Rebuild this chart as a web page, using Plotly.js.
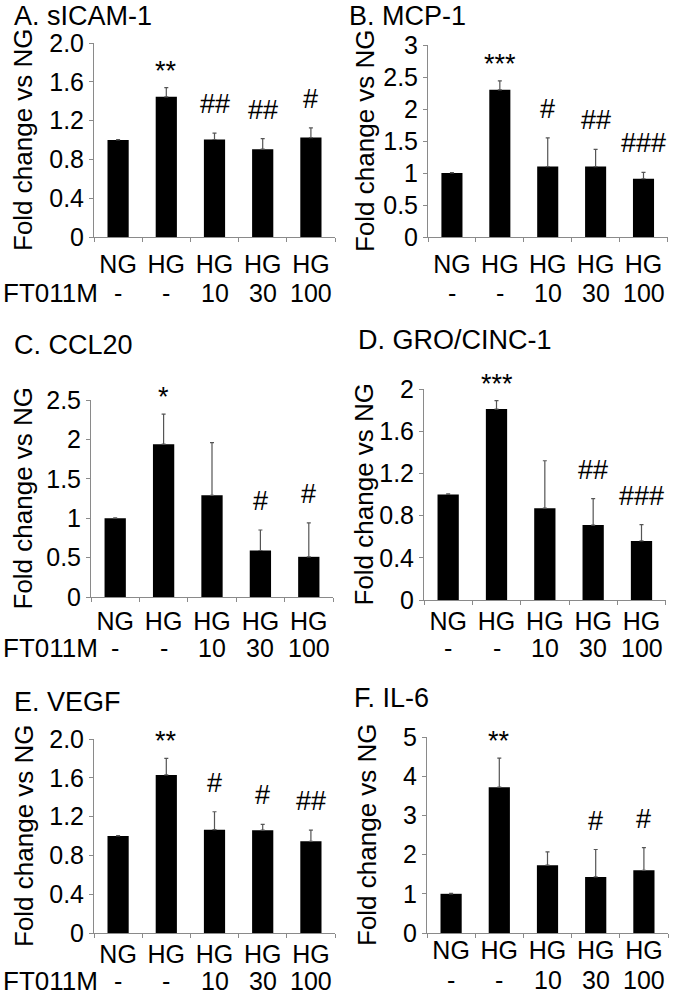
<!DOCTYPE html>
<html>
<head>
<meta charset="utf-8">
<script src="https://cdn.plot.ly/plotly-3.0.1.min.js"></script>
<style>
  body { margin: 0; background: #fff; }
  #plot { width: 675px; height: 997px; }
</style>
</head>
<body>
<div id="plot"></div>
<script>
// x axis groups (two rows of labels)
const groups = ["NG", "HG", "HG", "HG", "HG"];
const doses = ["-", "-", "10", "30", "100"];

// fold change vs NG
const icam = [1.0, 1.445, 1.005, 0.905, 1.025];
const icamErr = [0.005, 0.095, 0.065, 0.11, 0.10];
const icamSig = ["", "**", "##", "##", "#"];

const mcp = [1.0, 2.30, 1.10, 1.10, 0.91];
const mcpErr = [0.005, 0.14, 0.45, 0.27, 0.10];
const mcpSig = ["", "***", "#", "##", "###"];

const ccl = [1.0, 1.94, 1.29, 0.59, 0.51];
const cclErr = [0.005, 0.38, 0.67, 0.26, 0.43];
const cclSig = ["", "*", "", "#", "#"];

const gro = [1.0, 1.81, 0.87, 0.71, 0.56];
const groErr = [0.005, 0.08, 0.45, 0.25, 0.155];
const groSig = ["", "***", "", "##", "###"];

const vegf = [1.0, 1.63, 1.065, 1.06, 0.945];
const vegfErr = [0.005, 0.17, 0.185, 0.06, 0.115];
const vegfSig = ["", "**", "#", "#", "##"];

const il6 = [1.0, 3.72, 1.73, 1.43, 1.60];
const il6Err = [0.01, 0.74, 0.34, 0.70, 0.58];
const il6Sig = ["", "**", "", "#", "#"];

// y tick labels
const ticks04 = [0, 0.4, 0.8, 1.2, 1.6, 2.0];
const ticks04Text = ["0", "0.4", "0.8", "1.2", "1.6", "2.0"];
const ticks04TextD = ["0", "0.4", "0.8", "1.2", "1.6", "2"];
const ticks05a = [0, 0.5, 1, 1.5, 2, 2.5, 3];
const ticks05b = [0, 0.5, 1, 1.5, 2, 2.5];
const ticks1 = [0, 1, 2, 3, 4, 5];

const W = 675, H = 997;
const FONT = "'Liberation Sans', Arial, sans-serif";
const GREY = "#8a8a8a";
function px(x) { return x / W; }
function py(y) { return 1 - y / H; }

// panel boxes in pixels: left, right, top, bottom of the plot area
const panels = [
  { title: "A. sICAM-1", vals: icam, err: icamErr, sig: icamSig, max: 2, tv: ticks04, tt: ticks04Text,
    box: [94, 335, 43, 237], titleXY: [12, 16], yTitleX: 23, doseY: 293, ft: true, standoff: 5 },
  { title: "B. MCP-1", vals: mcp, err: mcpErr, sig: mcpSig, max: 3, tv: ticks05a, tt: ticks05a.map(String),
    box: [428, 668, 45, 237], titleXY: [347, 16], yTitleX: 365, doseY: 293, ft: false, standoff: 5 },
  { title: "C. CCL20", vals: ccl, err: cclErr, sig: cclSig, max: 2.5, tv: ticks05b, tt: ticks05b.map(String),
    box: [91, 333, 400, 597], titleXY: [12, 345], yTitleX: 22, doseY: 648, ft: true, standoff: 2 },
  { title: "D. GRO/CINC-1", vals: gro, err: groErr, sig: groSig, max: 2, tv: ticks04, tt: ticks04TextD,
    box: [424, 666, 389, 600], titleXY: [356, 340], yTitleX: 363, doseY: 648, ft: false, standoff: -1 },
  { title: "E. VEGF", vals: vegf, err: vegfErr, sig: vegfSig, max: 2, tv: ticks04, tt: ticks04Text,
    box: [94, 335, 739, 933], titleXY: [12, 702], yTitleX: 24, doseY: 981, ft: true, standoff: -1 },
  { title: "F. IL-6", vals: il6, err: il6Err, sig: il6Sig, max: 5, tv: ticks1, tt: ticks1.map(String),
    box: [427, 668, 737, 933], titleXY: [352, 698], yTitleX: 367, doseY: 980, ft: false, standoff: -5 }
];

// unique category keys, shown with the group name only
const cats = groups.map((g, i) => g + " " + doses[i]);

const data = [];
const layout = {
  width: W, height: H,
  margin: { l: 0, r: 0, t: 0, b: 0 },
  paper_bgcolor: "#fff", plot_bgcolor: "#fff",
  showlegend: false,
  bargap: 0.56,
  font: { family: FONT, color: "#000", size: 25 },
  annotations: []
};

panels.forEach((p, k) => {
  const n = k === 0 ? "" : String(k + 1);
  const b = p.box;
  data.push({
    type: "bar",
    x: cats, y: p.vals,
    xaxis: "x" + n, yaxis: "y" + n,
    marker: { color: "#000" },
    error_y: {
      type: "data", symmetric: false, array: p.err,
      arrayminus: p.err.map(() => 0),
      color: "#555", thickness: 1.2, width: 2
    },
    hoverinfo: "none"
  });

  layout["xaxis" + n] = {
    domain: [px(b[0]), px(b[1])],
    anchor: "y" + n,
    type: "category",
    tickmode: "array", tickvals: cats, ticktext: groups,
    tickson: "boundaries",
    ticks: "outside", ticklen: 4, tickcolor: GREY,
    ticklabelstandoff: p.standoff,
    showline: true, linecolor: GREY, linewidth: 1,
    showgrid: false, zeroline: false,
    tickfont: { size: 25 },
    fixedrange: true
  };
  layout["yaxis" + n] = {
    domain: [py(b[3]), py(b[2])],
    anchor: "x" + n,
    range: [0, p.max],
    tickmode: "array", tickvals: p.tv, ticktext: p.tt,
    ticks: "outside", ticklen: 4, tickcolor: GREY,
    showline: true, linecolor: GREY, linewidth: 1,
    showgrid: false, zeroline: false,
    tickfont: { size: 25 },
    fixedrange: true
  };

  // panel title
  layout.annotations.push({
    xref: "paper", yref: "paper",
    x: px(p.titleXY[0]), y: py(p.titleXY[1]),
    xanchor: "left", yanchor: "middle",
    text: p.title, showarrow: false, font: { size: 27 }
  });
  // y axis title
  layout.annotations.push({
    xref: "paper", yref: "paper",
    x: px(p.yTitleX), y: py((b[2] + b[3]) / 2),
    xanchor: "center", yanchor: "middle", textangle: -90,
    text: "Fold change vs NG", showarrow: false, font: { size: 26 }
  });
  // dose row under the group names
  doses.forEach((d, i) => {
    layout.annotations.push({
      xref: "x" + n, yref: "paper",
      x: cats[i], y: py(p.doseY),
      xanchor: "center", yanchor: "middle",
      text: d, showarrow: false, font: { size: 25 }
    });
  });
  if (p.ft) {
    layout.annotations.push({
      xref: "paper", yref: "paper",
      x: px(1), y: py(p.doseY),
      xanchor: "left", yanchor: "middle",
      text: "FT011M", showarrow: false, font: { size: 26 }
    });
  }
  // significance marks above the error bars
  p.sig.forEach((s, i) => {
    if (!s) return;
    layout.annotations.push({
      xref: "x" + n, yref: "y" + n,
      x: cats[i], y: p.vals[i] + p.err[i],
      xanchor: "center", yanchor: "bottom",
      yshift: s[0] === "*" ? 0 : 12,
      text: s, showarrow: false, font: { size: 27 }
    });
  });
});

Plotly.newPlot("plot", data, layout, { staticPlot: true });
</script>
</body>
</html>
